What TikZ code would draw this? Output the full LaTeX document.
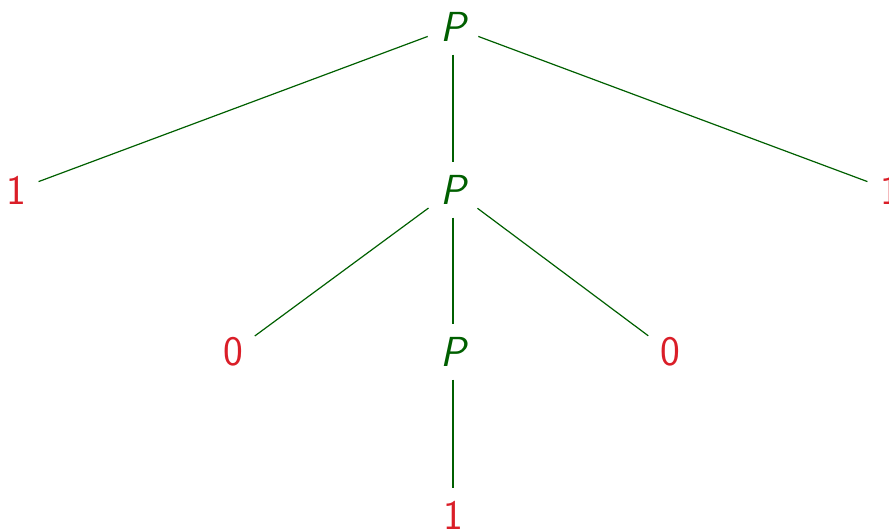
\documentclass[tikz,border=0pt]{standalone}
\definecolor{treegreen}{RGB}{0,95,0}
\definecolor{leafred}{RGB}{218,30,40}
\tikzset{
  inner/.style={font=\fontsize{21}{25}\selectfont\sffamily\itshape, text=treegreen},
  leaf/.style={font=\fontsize{21}{25}\selectfont\sffamily, text=leafred},
  branch/.style={treegreen, line width=0.6pt, shorten <=3pt, shorten >=3pt}
}
\begin{document}
\begin{tikzpicture}[x=0.5pt,y=-0.5pt]
        \useasboundingbox (0,0) rectangle (889,531);
        \node[inner] (root) at (453,27) {P};
        \node[leaf] (l1) at (16,190) {1};
        \node[inner] (mid) at (453,190) {P};
        \node[leaf] (r1) at (890,190) {1};
        \node[leaf] (l0) at (233,352) {0};
        \node[inner] (low) at (453,352) {P};
        \node[leaf] (r0) at (670,352) {0};
        \node[leaf] (b1) at (453,515) {1};
        \draw[branch] (root) -- (l1);
        \draw[branch] (root) -- (mid);
        \draw[branch] (root) -- (r1);
        \draw[branch] (mid) -- (l0);
        \draw[branch] (mid) -- (low);
        \draw[branch] (mid) -- (r0);
        \draw[branch] (low) -- (b1);
    \end{tikzpicture}
\end{document}
